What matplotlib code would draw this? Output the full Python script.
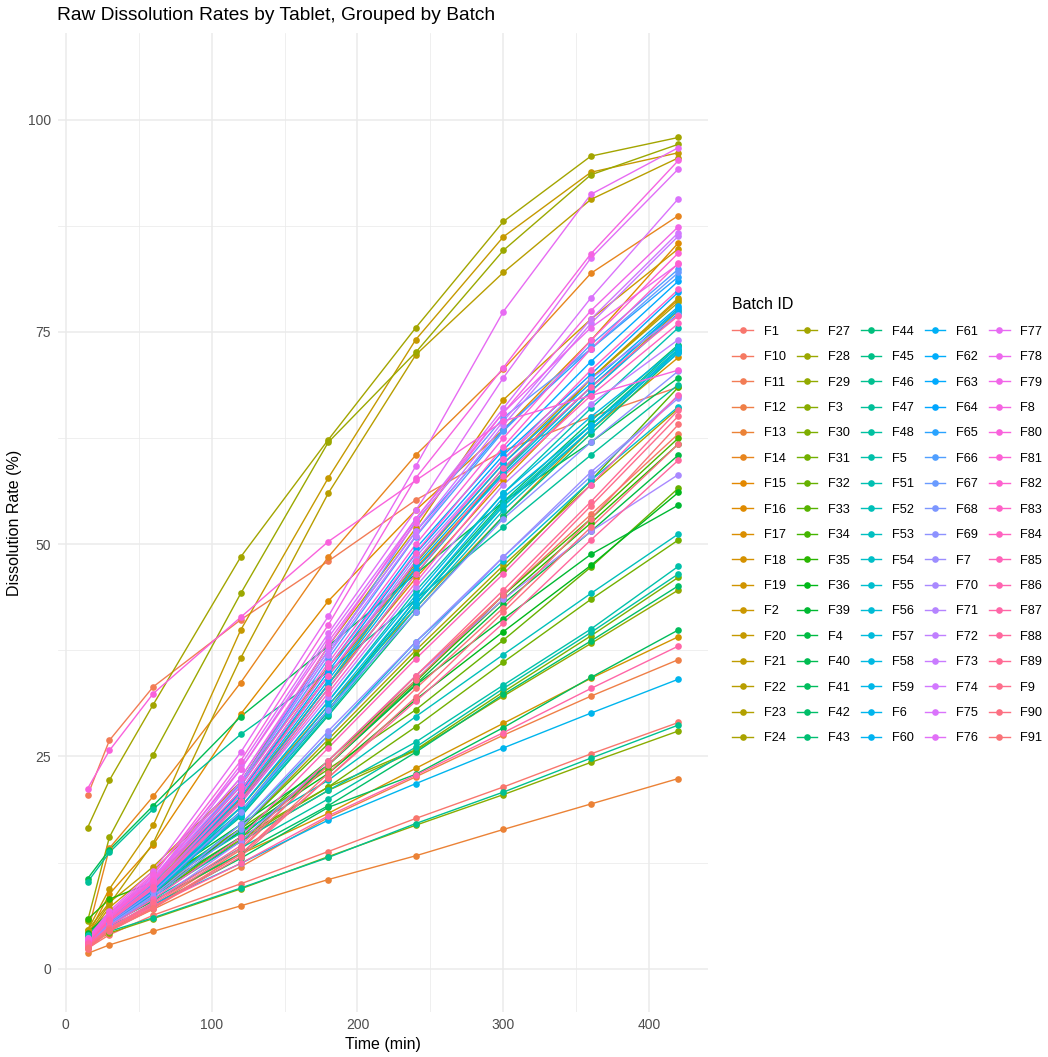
import numpy as np
import matplotlib.pyplot as plt
from matplotlib.lines import Line2D

plt.rcParams['font.family'] = ['Liberation Sans', 'DejaVu Sans']

times = [15, 30, 60, 120, 180, 240, 300, 360, 420]

batches = ["F1", "F10", "F11", "F12", "F13", "F14", "F15", "F16", "F17", "F18", "F19", "F2", "F20", "F21", "F22", "F23", "F24",
           "F27", "F28", "F29", "F3", "F30", "F31", "F32", "F33", "F34", "F35", "F36", "F39", "F4", "F40", "F41", "F42", "F43",
           "F44", "F45", "F46", "F47", "F48", "F5", "F51", "F52", "F53", "F54", "F55", "F56", "F57", "F58", "F59", "F6", "F60",
           "F61", "F62", "F63", "F64", "F65", "F66", "F67", "F68", "F69", "F7", "F70", "F71", "F72", "F73", "F74", "F75", "F76",
           "F77", "F78", "F79", "F8", "F80", "F81", "F82", "F83", "F84", "F85", "F86", "F87", "F88", "F89", "F9", "F90", "F91"]

# dissolution (%) at each time point, one value per batch in the order above
r15 = [2.4, 2.5, 20.4, 2.6, 1.8, 4.2, 3.0, 3.9, 3.2, 3.4, 3.1, 3.8, 4.5, 4.5, 4.0, 3.5, 3.6,
       16.6, 5.6, 3.4, 2.8, 3.6, 3.8, 4.0, 3.7, 3.4, 5.8, 3.9, 4.2, 3.5, 10.6, 3.2, 3.2, 3.4,
       3.2, 3.3, 3.0, 10.2, 3.3, 3.5, 3.3, 4.0, 3.1, 3.1, 3.0, 2.8, 2.7, 2.9, 2.8, 3.3, 2.7,
       2.8, 2.8, 2.9, 2.9, 3.1, 3.0, 3.1, 2.7, 2.9, 2.8, 2.6, 3.0, 3.0, 3.3, 3.4, 3.2, 3.3,
       3.6, 3.4, 3.6, 3.4, 21.2, 3.2, 3.1, 3.0, 2.9, 2.7, 3.0, 2.9, 2.4, 2.6, 2.5, 2.3, 2.4]
r30 = [4.0, 4.6, 26.9, 4.5, 2.8, 14.2, 5.9, 8.8, 6.0, 6.2, 5.3, 7.2, 9.4, 7.8, 7.6, 6.5, 6.0,
       22.2, 15.5, 5.7, 4.2, 5.9, 6.0, 6.5, 6.2, 5.7, 8.2, 6.2, 6.6, 5.8, 14.0, 5.0, 5.2, 6.1,
       5.8, 5.9, 4.4, 13.7, 5.4, 5.6, 6.0, 6.3, 5.8, 5.7, 5.5, 5.4, 5.2, 5.5, 5.4, 4.9, 5.2,
       5.3, 5.4, 5.6, 5.5, 5.9, 5.8, 5.9, 5.1, 5.4, 5.2, 4.8, 5.7, 5.6, 6.2, 6.4, 6.0, 6.2,
       6.8, 6.3, 6.6, 6.4, 25.7, 6.1, 6.0, 5.8, 5.6, 5.0, 5.7, 4.8, 4.5, 4.8, 4.7, 4.4, 4.5]
r60 = [6.3, 7.4, 33.2, 7.0, 4.4, 20.3, 9.8, 14.6, 9.8, 10.0, 8.0, 11.5, 16.9, 12.0, 14.8, 10.5, 9.0,
       31.1, 25.2, 8.8, 5.9, 9.0, 9.2, 9.8, 9.5, 8.8, 10.2, 9.4, 10.0, 9.0, 19.2, 7.5, 8.0, 9.7,
       9.3, 9.5, 6.0, 18.8, 8.2, 8.5, 9.8, 9.5, 9.4, 9.2, 9.0, 9.1, 8.8, 9.2, 9.0, 7.6, 9.0,
       9.2, 9.3, 9.6, 9.5, 10.1, 10.0, 10.1, 8.4, 9.0, 8.6, 7.8, 9.6, 9.5, 10.5, 10.8, 10.2, 10.5,
       11.5, 10.6, 11.2, 11.0, 32.4, 10.4, 10.2, 9.8, 9.4, 8.2, 9.6, 7.4, 7.2, 7.8, 7.6, 7.1, 7.2]
r120 = [10.0, 14.0, 41.1, 12.0, 7.4, 33.7, 21.0, 30.0, 20.0, 19.0, 13.5, 22.0, 39.9, 22.0, 36.6, 20.0, 16.5,
        48.5, 44.2, 15.0, 9.4, 15.2, 15.5, 16.5, 16.5, 15.0, 16.0, 16.2, 17.0, 15.5, 29.7, 13.0, 13.6, 18.5,
        17.9, 18.3, 9.5, 27.6, 14.2, 15.0, 19.0, 16.0, 18.5, 18.0, 17.0, 19.6, 18.2, 19.0, 18.5, 12.4, 19.8,
        20.2, 20.5, 21.0, 20.8, 22.0, 21.5, 21.8, 16.5, 18.5, 17.0, 15.0, 20.5, 19.5, 22.0, 22.5, 23.5, 24.0,
        25.5, 22.5, 23.5, 24.5, 41.4, 21.5, 21.0, 20.5, 19.5, 15.5, 19.8, 12.4, 13.5, 14.5, 14.2, 13.2, 13.5]
r180 = [13.8, 24.0, 48.0, 17.8, 10.5, 48.5, 34.5, 43.3, 33.5, 31.0, 18.3, 38.0, 57.8, 35.6, 56.0, 33.5, 27.0,
        62.3, 62.0, 21.0, 13.2, 21.4, 21.4, 23.5, 26.5, 24.0, 24.5, 23.0, 24.0, 24.0, 38.0, 19.0, 19.2, 30.5,
        29.8, 30.3, 13.1, 35.0, 20.0, 21.0, 31.5, 22.2, 30.5, 30.0, 27.5, 33.0, 30.5, 31.5, 31.0, 17.5, 33.5,
        34.0, 34.5, 35.5, 35.0, 37.5, 36.5, 37.0, 27.5, 30.5, 28.0, 24.5, 34.5, 32.0, 37.0, 37.5, 39.0, 39.5,
        41.5, 38.0, 38.5, 40.5, 50.3, 36.0, 35.5, 34.5, 32.5, 26.0, 33.0, 18.0, 22.5, 24.5, 24.0, 22.5, 23.0]
r240 = [17.7, 34.5, 55.2, 22.6, 13.3, 60.5, 47.2, 54.0, 46.0, 42.5, 23.6, 51.9, 74.1, 47.0, 72.3, 47.8, 37.5,
        75.5, 72.6, 25.7, 16.9, 25.8, 28.5, 30.5, 37.0, 33.8, 34.0, 31.7, 33.4, 33.5, 46.5, 22.9, 25.5, 43.5,
        42.0, 43.0, 17.1, 43.5, 26.1, 26.7, 44.5, 29.7, 43.0, 42.5, 38.5, 46.5, 43.0, 44.0, 43.5, 21.8, 47.0,
        47.5, 48.0, 49.5, 48.9, 51.5, 50.9, 52.7, 38.0, 42.0, 38.5, 34.5, 48.5, 45.0, 51.0, 51.5, 53.0, 54.0,
        59.2, 53.0, 52.5, 57.8, 57.5, 50.0, 49.0, 48.0, 45.5, 36.5, 46.5, 22.8, 31.5, 34.5, 34.0, 32.0, 33.0]
r300 = [21.4, 44.0, 61.0, 27.5, 16.4, 70.6, 58.5, 63.5, 57.5, 53.3, 28.9, 67.0, 86.2, 58.5, 82.0, 59.5, 47.5,
        88.0, 84.6, 32.1, 20.5, 32.6, 36.1, 38.7, 47.0, 44.0, 43.5, 39.7, 41.2, 43.0, 55.0, 28.4, 32.3, 55.0,
        53.3, 54.5, 20.8, 52.0, 33.0, 33.4, 56.0, 37.0, 54.8, 54.0, 48.0, 58.5, 54.5, 56.0, 55.5, 26.0, 58.2,
        58.9, 59.5, 61.1, 60.5, 63.5, 63.3, 64.9, 48.5, 53.0, 48.5, 43.5, 60.0, 57.0, 64.0, 64.5, 66.0, 69.6,
        77.4, 65.5, 65.5, 70.8, 64.5, 62.5, 61.5, 60.0, 58.0, 46.5, 59.0, 27.8, 40.7, 44.6, 44.0, 42.0, 42.5]
r360 = [25.3, 53.5, 65.0, 32.1, 19.4, 81.9, 69.5, 74.0, 68.0, 63.5, 34.2, 76.5, 93.8, 69.5, 90.6, 69.5, 57.0,
        95.7, 93.5, 38.3, 24.3, 39.2, 43.5, 47.3, 57.5, 53.0, 52.5, 47.5, 48.8, 51.5, 62.0, 34.3, 38.6, 64.5,
        63.0, 64.0, 24.8, 60.5, 39.6, 40.0, 66.0, 44.2, 64.0, 63.5, 57.5, 68.5, 63.5, 65.0, 64.0, 30.1, 68.0,
        68.5, 69.0, 71.5, 70.0, 73.0, 73.5, 73.0, 58.0, 62.0, 58.5, 51.5, 69.5, 66.5, 76.0, 76.5, 79.0, 83.7,
        91.2, 75.5, 77.5, 84.2, 67.5, 74.0, 73.0, 70.5, 67.5, 57.0, 68.5, 33.0, 50.5, 55.0, 54.5, 52.0, 53.0]
r420 = [29.0, 63.0, 68.5, 36.4, 22.4, 88.7, 78.8, 85.5, 77.5, 72.0, 39.1, 84.8, 96.1, 79.0, 95.5, 78.5, 66.0,
        97.9, 97.1, 44.6, 28.0, 46.1, 50.5, 56.6, 68.5, 62.5, 61.8, 56.1, 54.6, 60.5, 69.6, 39.9, 45.1, 73.5,
        72.6, 73.3, 28.7, 68.8, 46.5, 47.4, 75.5, 51.2, 73.0, 72.9, 66.2, 77.8, 72.8, 73.2, 72.5, 34.1, 77.2,
        77.6, 78.0, 81.0, 79.7, 81.5, 82.4, 82.0, 67.5, 70.4, 67.2, 58.2, 77.0, 74.1, 86.3, 86.7, 90.7, 94.2,
        96.7, 83.0, 87.4, 95.2, 70.5, 84.3, 83.1, 80.0, 76.0, 67.6, 76.9, 38.0, 59.9, 65.8, 65.1, 61.8, 64.1]


def hue_pal(n, c=100.0, l=65.0):
    # ggplot2 default discrete palette (HCL -> sRGB)
    hues = np.linspace(15, 375, n + 1)[:-1]
    xn, yn, zn = 95.047, 100.0, 108.883
    un = 4 * xn / (xn + 15 * yn + 3 * zn)
    vn = 9 * yn / (xn + 15 * yn + 3 * zn)
    out = []
    for h in hues:
        u = c * np.cos(np.radians(h))
        v = c * np.sin(np.radians(h))
        Y = yn * ((l + 16) / 116) ** 3
        up = u / (13 * l) + un
        vp = v / (13 * l) + vn
        X = 9 * Y * up / (4 * vp)
        Z = Y * (12 - 3 * up - 20 * vp) / (4 * vp)
        X, Y, Z = X / 100, Y / 100, Z / 100
        rgb = [3.240479 * X - 1.537150 * Y - 0.498535 * Z,
               -0.969256 * X + 1.875992 * Y + 0.041556 * Z,
               0.055648 * X - 0.204043 * Y + 1.057311 * Z]
        rgb = [12.92 * x if x <= 0.0031308 else 1.055 * x ** (1 / 2.4) - 0.055 for x in rgb]
        out.append(tuple(min(max(x, 0), 1) for x in rgb))
    return out


colors = hue_pal(len(batches))
data = np.array([r15, r30, r60, r120, r180, r240, r300, r360, r420]).T

fig = plt.figure(figsize=(10.48, 10.57), dpi=100)
W, H = 1048, 1057
ax = fig.add_axes([58 / W, 1 - 1012 / H, 650 / W, 979 / H])

for i, b in enumerate(batches):
    ax.plot(times, data[i], color=colors[i], lw=1.0, zorder=2)
for i, b in enumerate(batches):
    ax.plot(times, data[i], 'o', color=colors[i], ms=4.8, mew=0, zorder=3)

ax.set_xlim(-5.25, 440.25)
ax.set_ylim(-5.1, 110.2)
ax.set_xticks([0, 100, 200, 300, 400])
ax.set_xticks([50, 150, 250, 350], minor=True)
ax.set_yticks([0, 25, 50, 75, 100])
ax.set_yticks([12.5, 37.5, 62.5, 87.5], minor=True)
ax.grid(which='major', color='#EBEBEB', lw=1.1, zorder=0)
ax.grid(which='minor', color='#EBEBEB', lw=0.55, zorder=0)
ax.set_axisbelow(True)
for s in ax.spines.values():
    s.set_visible(False)
ax.tick_params(which='both', length=0, labelsize=10, labelcolor='#4D4D4D')
ax.tick_params(axis='x', pad=4)
ax.tick_params(axis='y', pad=5)
ax.set_xlabel("Time (min)", fontsize=11.5, labelpad=4)
ax.set_ylabel("Dissolution Rate (%)", fontsize=11.5, labelpad=4)

fig.text(57 / W, 1 - 15 / H, "Raw Dissolution Rates by Tablet, Grouped by Batch",
         fontsize=13.8, ha='left', va='center')

handles = [Line2D([], [], color=colors[i], lw=1.0, marker='o', ms=4.8, mew=0) for i in range(len(batches))]
leg = fig.legend(handles, batches, loc='upper left', bbox_to_anchor=(726 / W, 1 - 291 / H),
                 ncol=5, frameon=False, fontsize=9.2, title="Batch ID", title_fontsize=11.5,
                 handlelength=1.6, handletextpad=0.85, columnspacing=0.85, labelspacing=1.05,
                 borderpad=0, alignment='left')

fig.savefig("out.png", dpi=100)
